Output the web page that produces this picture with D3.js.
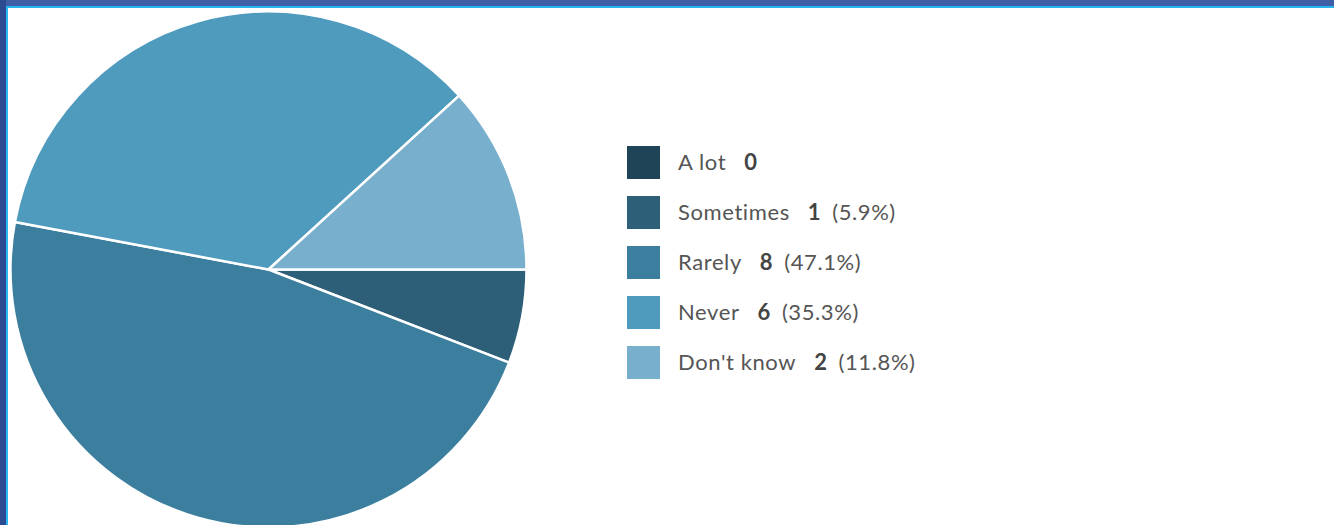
<!DOCTYPE html>
<html>
<head>
<meta charset="utf-8">
<script src="https://cdn.jsdelivr.net/npm/d3@7"></script>
<style>
  body { margin: 0; background: #ffffff; }
  svg { display: block; }
</style>
</head>
<body>
<script>
// data
var categories = ["A lot", "Sometimes", "Rarely", "Never", "Don't know"];
var counts = [0, 1, 8, 6, 2];
var colors = ["#1f4357", "#2e5f78", "#3b7e9e", "#4f9bbe", "#78afcd"];

var w = 1334;
var h = 525;

// pie size and place
var cx = 268.5;
var cy = 269.5;
var radius = 258;

// legend size
var legendX = 627;
var legendY = 146;
var legendStep = 50;
var boxSize = 33;

var total = d3.sum(counts);

var svg = d3.select("body")
            .append("svg")
            .attr("width", w)
            .attr("height", h);

// window frame
svg.append("rect")
   .attr("x", 0).attr("y", 0)
   .attr("width", w).attr("height", 6)
   .attr("fill", "#3f5ea6");
svg.append("rect")
   .attr("x", 0).attr("y", 0)
   .attr("width", 6).attr("height", h)
   .attr("fill", "#2c4a92");
svg.append("rect")
   .attr("x", 6).attr("y", 6)
   .attr("width", w - 6).attr("height", 2)
   .attr("fill", "#29b6ee");
svg.append("rect")
   .attr("x", 6).attr("y", 6)
   .attr("width", 2).attr("height", h - 6)
   .attr("fill", "#29b6ee");

// pie starts at 3 o'clock and runs clockwise
var pie = d3.pie()
            .sort(null)
            .value(function(d) { return d; })
            .startAngle(Math.PI / 2)
            .endAngle(Math.PI / 2 + 2 * Math.PI);

var arc = d3.arc()
            .innerRadius(0)
            .outerRadius(radius);

var g = svg.append("g")
           .attr("transform", "translate(" + cx + "," + cy + ")");

g.selectAll("path")
 .data(pie(counts))
 .enter()
 .append("path")
 .filter(function(d) { return d.value > 0; })
 .attr("d", arc)
 .attr("fill", function(d, i) { return colors[d.index]; })
 .attr("stroke", "#ffffff")
 .attr("stroke-width", 2.5)
 .attr("stroke-linejoin", "round");

// legend
var legend = svg.append("g")
                .attr("transform", "translate(" + legendX + "," + legendY + ")");

var rows = legend.selectAll("g")
                 .data(categories)
                 .enter()
                 .append("g")
                 .attr("transform", function(d, i) {
                    return "translate(0," + (i * legendStep) + ")";
                 });

rows.append("rect")
    .attr("width", boxSize)
    .attr("height", boxSize)
    .attr("fill", function(d, i) { return colors[i]; });

var texts = rows.append("text")
                .attr("x", 51)
                .attr("y", boxSize / 2)
                .attr("dy", "0.36em")
                .attr("font-family", "Lato, sans-serif")
                .attr("font-size", "22px")
                .attr("letter-spacing", "0.6px")
                .attr("fill", "#555555");

texts.append("tspan")
     .text(function(d) { return d; });

texts.append("tspan")
     .attr("dx", 18)
     .attr("font-weight", "bold")
     .attr("fill", "#444444")
     .text(function(d, i) { return counts[i]; });

texts.append("tspan")
     .attr("dx", 11)
     .text(function(d, i) {
        if (counts[i] == 0) return "";
        return "(" + (counts[i] / total * 100).toFixed(1) + "%)";
     });
</script>
</body>
</html>
